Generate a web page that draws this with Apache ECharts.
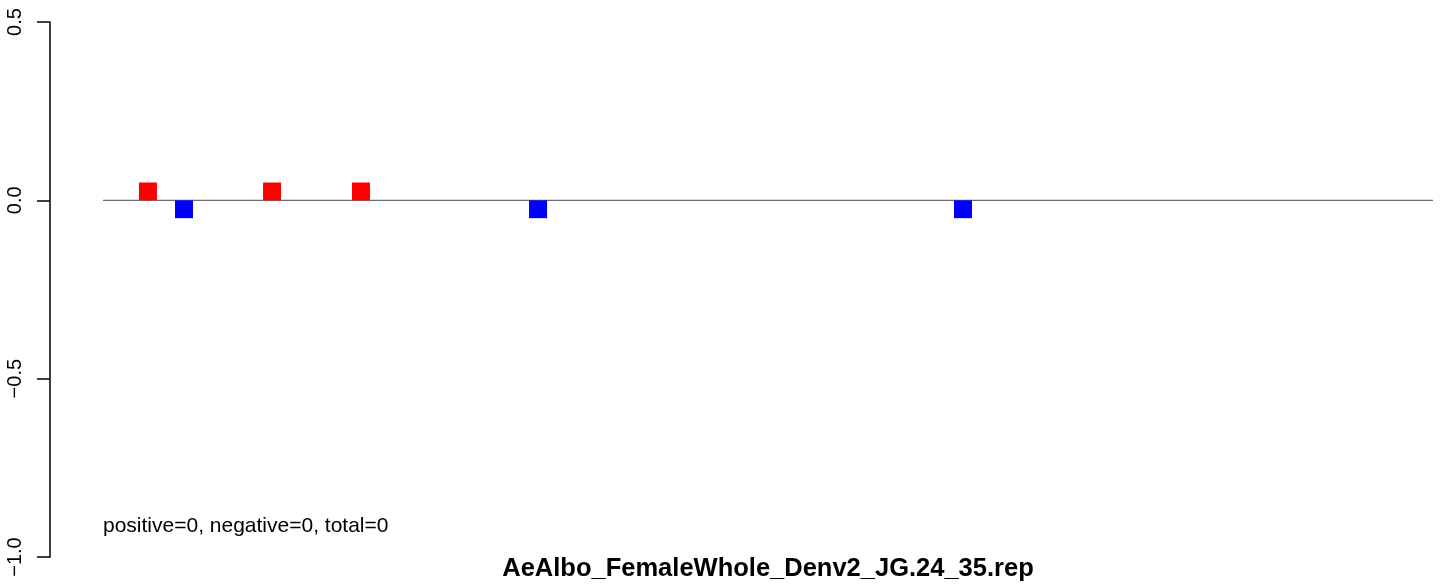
<!DOCTYPE html>
<html>
<head>
<meta charset="utf-8">
<script src="https://cdn.jsdelivr.net/npm/echarts@6/dist/echarts.min.js"></script>
<style>html,body{margin:0;padding:0;background:#fff}#c{width:1444px;height:585px}</style>
</head>
<body>
<div id="c"></div>
<script>
// ---- data ----
const xRange = [-3.985, 100];
const baselineRange = [0, 100];
const positiveX = [3.38, 12.71, 19.40];
const positiveY = [0.05, 0.05, 0.05];
const negativeX = [6.09, 32.71, 64.66];
const negativeY = [-0.05, -0.05, -0.05];
const yTicks = [-1.0, -0.5, 0.0, 0.5];
const titleText = 'AeAlbo_FemaleWhole_Denv2_JG.24_35.rep';
const noteText = 'positive=0, negative=0, total=0';

const chart = echarts.init(document.getElementById('c'), null, {renderer: 'canvas'});
const FONT = '"Liberation Sans", Arial, Helvetica, sans-serif';

function barItem(color) {
  return function (params, api) {
    const x = api.value(0), y = api.value(1);
    const p0 = api.coord([x, 0]);
    const p1 = api.coord([x, y]);
    const w = 18;
    return {
      type: 'rect',
      shape: {x: p0[0] - w / 2, y: Math.min(p0[1], p1[1]), width: w, height: Math.abs(p1[1] - p0[1])},
      style: {fill: color}
    };
  };
}

chart.setOption({
  animation: false,
  backgroundColor: '#fff',
  grid: {left: 50, right: 11, top: 22, bottom: 28, containLabel: false},
  xAxis: {type: 'value', min: xRange[0], max: xRange[1], show: false},
  yAxis: {
    type: 'value', min: yTicks[0], max: yTicks[yTicks.length - 1], interval: 0.5,
    splitLine: {show: false},
    axisLine: {show: true, onZero: false, lineStyle: {color: '#000', width: 1.5}},
    axisTick: {show: true, length: 13, lineStyle: {color: '#000', width: 1.5}},
    axisLabel: {
      rotate: 90, margin: 25, color: '#000', fontSize: 20, fontFamily: FONT,
      formatter: v => v.toFixed(1).replace('-', '\u2212')
    }
  },
  series: [
    {type: 'line', data: baselineRange.map(x => [x, 0]), symbol: 'none', lineStyle: {color: '#6e6e6e', width: 1.2}, z: 1, silent: true},
    {type: 'custom', data: positiveX.map((x, i) => [x, positiveY[i]]), renderItem: barItem('#ff0000'), z: 2},
    {type: 'custom', data: negativeX.map((x, i) => [x, negativeY[i]]), renderItem: barItem('#0000ff'), z: 2}
  ],
  graphic: [
    {type: 'text', left: 103, top: 516, style: {text: noteText, font: '21px ' + FONT, fill: '#000'}},
    {type: 'text', x: 768, y: 569, style: {text: titleText, font: 'bold 25.5px ' + FONT, fill: '#000', textAlign: 'center', textVerticalAlign: 'middle'}}
  ]
});
</script>
</body>
</html>
